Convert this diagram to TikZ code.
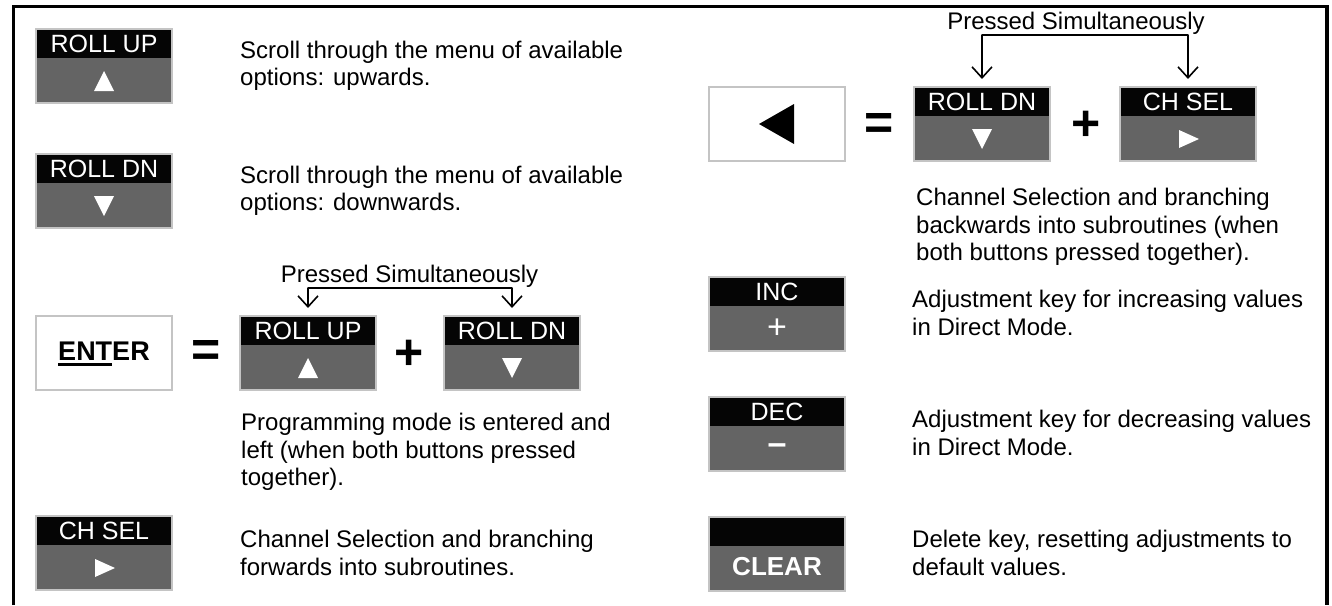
\documentclass[tikz,border=0pt]{standalone}
\usepackage{fontspec}
\setmainfont{Liberation Sans}
\usetikzlibrary{arrows.meta,calc}
\definecolor{keygray}{HTML}{646464}
\definecolor{keyrim}{HTML}{C4C4C4}
\definecolor{keyband}{HTML}{050505}
\newcommand\thickul[1]{\setbox0\hbox{#1}\rlap{\smash{\rule[-6pt]{\wd0}{3pt}}}\box0}
\tikzset{
  keybody/.style={rectangle, minimum width=136pt, minimum height=74pt, inner sep=0pt, outer sep=0pt, fill=keygray},
  whitekey/.style={rectangle, minimum width=136pt, minimum height=74pt, inner sep=0pt, outer sep=0pt, fill=white, draw=keyrim, line width=2.2pt},
  keyframe/.style={draw=keyrim, line width=2.2pt},
  keylabel/.style={text=white, font=\fontsize{25}{25}\selectfont, inner sep=0pt},
  keysymtxt/.style={text=white, inner sep=0pt},
  desc/.style={anchor=west, align=left, inner sep=0pt, font=\fontsize{24}{27.5}\selectfont},
  optxt/.style={font=\bfseries\fontsize{50}{50}\selectfont, inner sep=0pt},
  presstxt/.style={font=\fontsize{24}{27}\selectfont, inner sep=0pt, anchor=base},
  pressarrow/.style={line width=1.6pt, -{Straight Barb[length=11pt,width=20pt,line width=1.6pt]}, shorten >=8pt},
  bracketline/.style={line width=1.6pt, line cap=round},
  outerframe/.style={line width=3.8pt, line join=miter},
}
% name, centre x, top y, label
\newcommand\keyat[4]{%
  \node[keybody, anchor=north] (#1) at (#2,#3) {};
  \fill[keyband] (#1.north west) rectangle ($(#1.north east)+(0,29)$);
  \draw[keyframe] (#1.north west) rectangle (#1.south east);
  \node[keylabel] (#1-lab) at ($(#1.north)+(0,14.5)$) {#4};
  \coordinate (#1-sym) at ($(#1.north)+(0,52)$);
}
\newcommand\triup[1]{\fill[white] ($(#1)+(-10,10)$) -- ($(#1)+(10,10)$) -- ($(#1)+(0,-10)$) -- cycle;}
\newcommand\tridown[1]{\fill[white] ($(#1)+(-10,-10)$) -- ($(#1)+(10,-10)$) -- ($(#1)+(0,10)$) -- cycle;}
\newcommand\triright[1]{\fill[white] ($(#1)+(-9,-9)$) -- ($(#1)+(-9,9)$) -- ($(#1)+(11,0)$) -- cycle;}
\begin{document}
\begin{tikzpicture}[x=1pt,y=-1pt]
\useasboundingbox (0,0) rectangle (1332,605);
\draw[outerframe] (13.5,605) -- (13.5,6.5) -- (1327,6.5) -- (1327,605);

% ---- left column ----
\keyat{ru}{104}{29}{ROLL UP}
\triup{ru-sym}
\node[desc] (d-ru) at (240,66) {Scroll through the menu of available\\options: upwards.};

\keyat{rd}{104}{154}{ROLL DN}
\tridown{rd-sym}
\node[desc] (d-rd) at (240,191) {Scroll through the menu of available\\options: downwards.};

\node[whitekey] (enter) at (104,353) {};
\node[inner sep=0pt, font=\bfseries\fontsize{27}{27}\selectfont] (enter-t) at (104,351) {\thickul{ENT}ER};
\node[optxt] (eq1) at (206,353) {=};
\keyat{eu}{308}{316}{ROLL UP}
\triup{eu-sym}
\node[optxt] (plus1) at (409.5,355) {+};
\keyat{ed}{512}{316}{ROLL DN}
\tridown{ed-sym}
\node[presstxt] (p1) at (409.5,282) {Pressed Simultaneously};
\coordinate (b1) at (308,288);
\coordinate (b2) at (512,288);
\draw[bracketline] (b1) -- (b2);
\draw[pressarrow] (b1) -- (eu);
\draw[pressarrow] (b2) -- (ed);
\node[desc] (d-enter) at (241,452) {Programming mode is entered and\\left (when both buttons pressed\\together).};

\keyat{cs}{104}{516}{CH SEL}
\triright{cs-sym}
\node[desc] (d-cs) at (240,553) {Channel Selection and branching\\forwards into subroutines.};

% ---- right column ----
\node[whitekey] (back) at (777,124) {};
\fill[black] ($(back.center)+(17,-20)$) -- ($(back.center)+(17,20)$) -- ($(back.center)+(-18,0)$) -- cycle;
\node[optxt] (eq2) at (879.5,126) {=};
\keyat{bd}{982}{87}{ROLL DN}
\tridown{bd-sym}
\node[optxt] (plus2) at (1086,126) {+};
\keyat{bc}{1188}{87}{CH SEL}
\triright{bc-sym}
\node[presstxt] (p2) at (1076,29) {Pressed Simultaneously};
\coordinate (b3) at (982,35);
\coordinate (b4) at (1188,35);
\draw[bracketline] (b3) -- (b4);
\draw[pressarrow] (b3) -- (bd);
\draw[pressarrow] (b4) -- (bc);
\node[desc] (d-back) at (916,227) {Channel Selection and branching\\backwards into subroutines (when\\both buttons pressed together).};

\keyat{inc}{777}{277}{INC}
\node[keysymtxt, font=\fontsize{34}{34}\selectfont] (inc-s) at (inc-sym) {+};
\node[desc] (d-inc) at (912,313) {Adjustment key for increasing values\\in Direct Mode.};

\keyat{dec}{777}{397}{DEC}
\node[keysymtxt, font=\bfseries\fontsize{34}{34}\selectfont] (dec-s) at (dec-sym) {–};
\node[desc] (d-dec) at (912,433) {Adjustment key for decreasing values\\in Direct Mode.};

\keyat{clr}{777}{517}{}
\node[keysymtxt, font=\bfseries\fontsize{26}{26}\selectfont] (clr-s) at ($(clr-sym)+(0,-2)$) {CLEAR};
\node[desc] (d-clr) at (912,553) {Delete key, resetting adjustments to\\default values.};
\end{tikzpicture}
\end{document}
